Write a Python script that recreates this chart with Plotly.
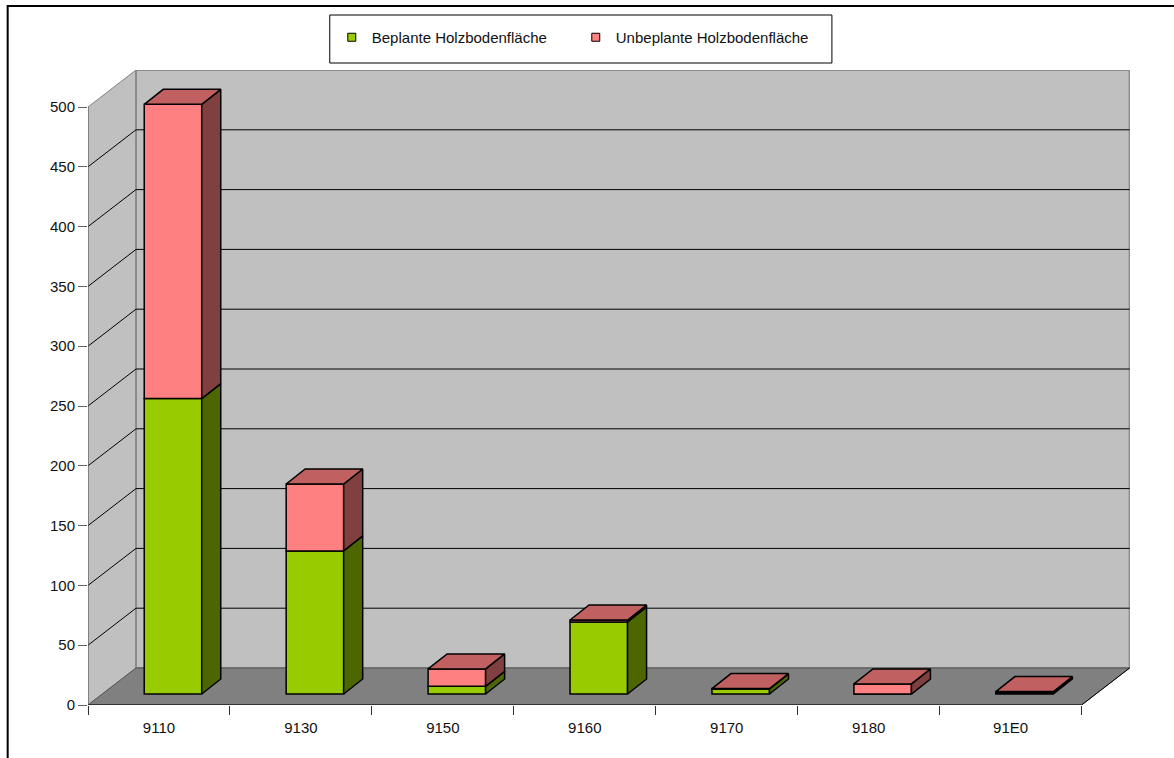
import plotly.graph_objects as go

categories = ["9110", "9130", "9150", "9160", "9170", "9180", "91E0"]
beplant = [247, 119.6, 6.4, 60.2, 4.2, 0, 1]
unbeplant = [246, 56, 14.6, 1.7, 0.3, 8.4, 1]
y_ticks = [0, 50, 100, 150, 200, 250, 300, 350, 400, 450, 500]
series_names = ["Beplante Holzbodenfläche", "Unbeplante Holzbodenfläche"]

W, H = 1174, 758
ML, MR, MT, MB = 88.3, 44, 70, 53
PX_CAT = 141.9
PX_VAL = 1.196
PW, PH = W - ML - MR, H - MT - MB
n = len(categories)

# oblique projection (expressed in axis units)
WALL_DX, WALL_DY = 48 / PX_CAT, 37 / PX_VAL
BAR_DX, BAR_DY = 19 / PX_CAT, 15 / PX_VAL
FRONT_DX, FRONT_DY = 14 / PX_CAT, 11 / PX_VAL
BAR_W = 57.5 / PX_CAT

GREEN, GREEN_SIDE = "#99CC00", "#4D6600"
PINK, PINK_SIDE, PINK_TOP = "#FF8080", "#804040", "#C06060"
WALL, FLOOR = "#C0C0C0", "#808080"
FONT = dict(family="Liberation Sans, Arial, sans-serif", size=15, color="#111111")
EDGE = dict(color="#000000", width=1.5)


def px(x):
    return (x - ML) / PW


def py(y):
    return 1 - (y - MT) / PH


def poly(points):
    return "M" + " L".join(f"{a},{b}" for a, b in points) + " Z"


shapes = []
top = y_ticks[-1]
# walls & floor
shapes.append(dict(type="path", path=poly([(0, 0), (0, top), (WALL_DX, top + WALL_DY), (WALL_DX, WALL_DY)]),
                   fillcolor=WALL, line=dict(color="#808080", width=1), layer="below"))
shapes.append(dict(type="path", path=poly([(WALL_DX, WALL_DY), (WALL_DX, top + WALL_DY), (n + WALL_DX, top + WALL_DY), (n + WALL_DX, WALL_DY)]),
                   fillcolor=WALL, line=dict(color="#8C8C8C", width=2), layer="below"))
shapes.append(dict(type="path", path=poly([(0, 0), (WALL_DX, WALL_DY), (n + WALL_DX, WALL_DY), (n, 0)]),
                   fillcolor=FLOOR, line=dict(color="#555555", width=1), layer="below"))
# gridlines
for t in y_ticks[1:-1]:
    shapes.append(dict(type="line", x0=0, y0=t, x1=WALL_DX, y1=t + WALL_DY, line=dict(color="#000000", width=1), layer="below"))
    shapes.append(dict(type="line", x0=WALL_DX, y0=t + WALL_DY, x1=n + WALL_DX, y1=t + WALL_DY, line=dict(color="#000000", width=1), layer="below"))
# axis lines
shapes.append(dict(type="line", x0=0, y0=0, x1=0, y1=top, line=dict(color="#606060", width=1), layer="below"))
shapes.append(dict(type="line", x0=0, y0=0, x1=n, y1=0, line=dict(color="#000000", width=1), layer="below"))
shapes.append(dict(type="line", x0=n, y0=0, x1=n + WALL_DX, y1=WALL_DY, line=dict(color="#000000", width=1), layer="below"))
# outer chart frame, running off the page
shapes.append(dict(type="rect", xref="paper", yref="paper", x0=px(8), x1=px(W + 40), y0=py(H + 40), y1=py(6),
                   line=dict(color="#000000", width=2), fillcolor="rgba(0,0,0,0)", layer="below"))
# legend box
shapes.append(dict(type="rect", xref="paper", yref="paper", x0=px(330), x1=px(832), y0=py(63), y1=py(15),
                   line=dict(color="#000000", width=1), fillcolor="#FFFFFF", layer="below"))

fig = go.Figure()
centers = [i + 0.5 + FRONT_DX for i in range(n)]
base_g = [FRONT_DY] * n
base_p = [FRONT_DY + g for g in beplant]

fig.add_trace(go.Bar(x=centers, y=beplant, base=base_g, width=BAR_W, marker=dict(color=GREEN, line=EDGE),
                     showlegend=False, hoverinfo="skip"))
fig.add_trace(go.Bar(x=centers, y=unbeplant, base=base_p, width=BAR_W, marker=dict(color=PINK, line=EDGE),
                     showlegend=False, hoverinfo="skip"))


def face(points, color):
    xs = [p[0] for p in points] + [points[0][0]]
    ys = [p[1] for p in points] + [points[0][1]]
    fig.add_trace(go.Scatter(x=xs, y=ys, mode="lines", fill="toself", fillcolor=color,
                             line=EDGE, showlegend=False, hoverinfo="skip"))


for i in range(n):
    xr = centers[i] + BAR_W / 2
    xl = centers[i] - BAR_W / 2
    y0 = base_g[i]
    y1 = base_p[i]
    y2 = y1 + unbeplant[i]
    face([(xr, y0), (xr + BAR_DX, y0 + BAR_DY), (xr + BAR_DX, y1 + BAR_DY), (xr, y1)], GREEN_SIDE)
    face([(xr, y1), (xr + BAR_DX, y1 + BAR_DY), (xr + BAR_DX, y2 + BAR_DY), (xr, y2)], PINK_SIDE)
    face([(xl, y2), (xl + BAR_DX, y2 + BAR_DY), (xr + BAR_DX, y2 + BAR_DY), (xr, y2)], PINK_TOP)

for name, col in zip(series_names, [GREEN, PINK]):
    fig.add_trace(go.Scatter(x=[None], y=[None], mode="markers", name=name,
                             marker=dict(symbol="square", size=8, color=col, line=dict(color="#000000", width=1))))

fig.update_layout(
    width=W, height=H, margin=dict(l=ML, r=MR, t=MT, b=MB, pad=0, autoexpand=False),
    paper_bgcolor="#FFFFFF", plot_bgcolor="rgba(0,0,0,0)", barmode="overlay", font=FONT,
    shapes=shapes, hovermode=False,
    legend=dict(orientation="h", x=px(332), y=py(21), xanchor="left", yanchor="top", bgcolor="rgba(0,0,0,0)",
                entrywidth=199, entrywidthmode="pixels", font=FONT, traceorder="normal"),
    xaxis=dict(range=[0, PW / PX_CAT], tickmode="array", tickvals=[i + 0.5 for i in range(n)], ticktext=categories,
               ticks="", showgrid=False, zeroline=False, showline=False, ticklabelstandoff=12,
               minor=dict(tickmode="array", tickvals=list(range(n + 1)), ticks="outside", ticklen=9, tickcolor="#303030", tickwidth=1, showgrid=False),
               tickfont=FONT),
    yaxis=dict(range=[0, PH / PX_VAL], tickmode="array", tickvals=y_ticks, ticks="outside", ticklen=9, tickcolor="#606060",
               tickwidth=1, showgrid=False, zeroline=False, showline=False, tickfont=FONT),
)

fig.write_html("out.html", config=dict(displayModeBar=False),
               post_script="document.body.style.margin='0';document.documentElement.style.overflow='hidden';")
